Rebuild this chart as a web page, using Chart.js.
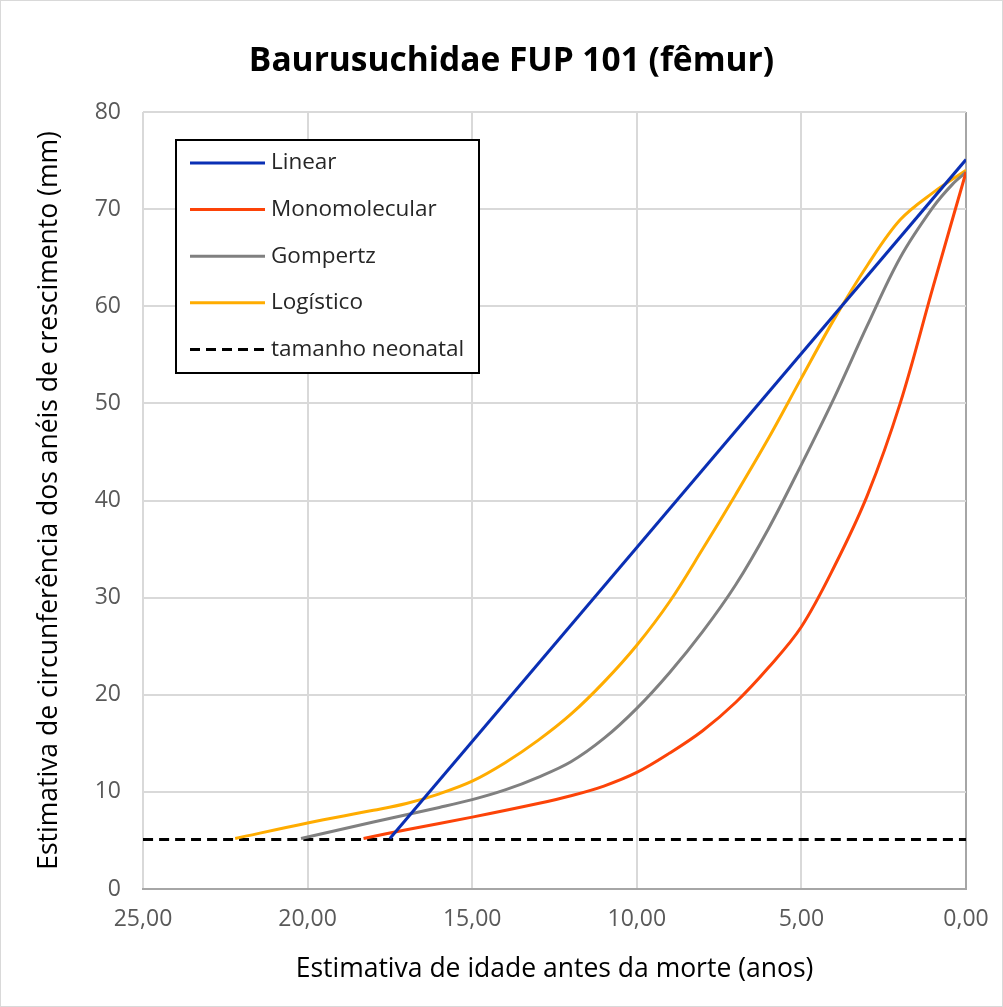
<!DOCTYPE html>
<html lang="pt">
<head>
  <meta charset="UTF-8">
  <title>Baurusuchidae FUP 101 (fêmur)</title>
  <style>
    html, body { margin: 0; padding: 0; background: #fff; }
    #wrap { width: 1003px; height: 1007px; position: relative; }
  </style>
</head>
<body>
  <div id="wrap">
    <canvas id="growthChart" width="1003" height="1007"></canvas>
  </div>

  <script src="https://cdn.jsdelivr.net/npm/chart.js"></script>
  <script>
    // Values (idade antes da morte em anos, circunferência em mm)
    const linearAges = [17.5, 0];
    const linearValues = [5.2, 75.1];

    const monoAges = [18.3, 17, 15, 13, 12, 11, 10, 9, 8, 7, 6, 5, 4, 3, 2, 1, 0];
    const monoValues = [5.2, 6.1, 7.4, 8.8, 9.6, 10.6, 12, 14.0, 16.3, 19.2, 22.8, 27, 33.2, 40.5, 50, 62, 73.8];

    const gompAges = [20.2, 18, 16, 15, 14, 13, 12, 11, 10, 9, 8, 7, 6, 5, 4, 3, 2, 1, 0.4, 0];
    const gompValues = [5.2, 6.9, 8.4, 9.2, 10.2, 11.5, 13.1, 15.5, 18.6, 22.3, 26.5, 31.3, 37.1, 43.7, 50.6, 58, 65, 70.2, 72.6, 73.8];

    const logAges = [22.2, 20, 18, 17, 16, 15, 14, 13, 12, 11, 10, 9, 8, 7, 6, 5, 4, 3, 2, 1, 0];
    const logValues = [5.2, 6.8, 8.1, 8.8, 9.8, 11.1, 13, 15.3, 18, 21.3, 25.1, 29.6, 35, 40.6, 46.4, 52.6, 58.7, 64.2, 68.9, 71.7, 74];

    const neonatalAges = [25, 0];
    const neonatalValues = [5.1, 5.1];

    const xTicks = [25, 20, 15, 10, 5, 0];

    const pairs = (xs, ys) => xs.map((x, i) => ({ x: x, y: ys[i] }));

    const FONT = "'Open Sans', 'Noto Sans', sans-serif";

    // legend drawn inside the plot, like the original
    const insideLegend = {
      id: 'insideLegend',
      afterDraw(chart) {
        const ctx = chart.ctx;
        const area = chart.chartArea;
        const left = area.left + 33;
        const top = area.top + 28;
        const w = 303, h = 233;
        ctx.save();
        ctx.fillStyle = '#fff';
        ctx.fillRect(left, top, w, h);
        ctx.lineWidth = 2;
        ctx.strokeStyle = '#000';
        ctx.strokeRect(left, top, w, h);
        ctx.font = '22.5px ' + FONT;
        ctx.textBaseline = 'middle';
        chart.data.datasets.forEach((ds, i) => {
          const y = top + 23 + i * 46.6;
          ctx.beginPath();
          ctx.lineWidth = 3;
          ctx.strokeStyle = ds.borderColor;
          ctx.setLineDash(ds.borderDash || []);
          ctx.moveTo(left + 14, y);
          ctx.lineTo(left + 89, y);
          ctx.stroke();
          ctx.setLineDash([]);
          ctx.fillStyle = '#262626';
          ctx.fillText(ds.label, left + 95, y);
        });
        ctx.restore();
      }
    };

    const outerBorder = {
      id: 'outerBorder',
      beforeDraw(chart) {
        const ctx = chart.ctx;
        ctx.save();
        ctx.fillStyle = '#fff';
        ctx.fillRect(0, 0, chart.width, chart.height);
        ctx.strokeStyle = '#d9d9d9';
        ctx.lineWidth = 1;
        ctx.strokeRect(0.5, 0.5, chart.width - 1, chart.height - 1);
        ctx.restore();
      }
    };

    const lineStyle = (label, color, data) => ({
      label: label,
      data: data,
      borderColor: color,
      backgroundColor: color,
      borderWidth: 3,
      pointRadius: 0,
      fill: false,
      tension: 0.35
    });

    const gridColor = (c) => (c.tick && c.tick.value === 0 ? '#a6a6a6' : '#d9d9d9');

    const ctx = document.getElementById('growthChart').getContext('2d');
    new Chart(ctx, {
      type: 'line',
      data: {
        datasets: [
          lineStyle('Linear', '#0a2fb4', pairs(linearAges, linearValues)),
          lineStyle('Monomolecular', '#fc4308', pairs(monoAges, monoValues)),
          lineStyle('Gompertz', '#808080', pairs(gompAges, gompValues)),
          lineStyle('Logístico', '#ffac00', pairs(logAges, logValues)),
          Object.assign(lineStyle('tamanho neonatal', '#000000', pairs(neonatalAges, neonatalValues)), {
            borderDash: [10, 6]
          })
        ]
      },
      options: {
        responsive: false,
        animation: false,
        layout: { padding: { left: 20, right: 0, top: 0, bottom: 0 } },
        scales: {
          x: {
            type: 'linear',
            reverse: true,
            min: 0,
            max: 25,
            afterBuildTicks: (scale) => { scale.ticks = xTicks.map(v => ({ value: v })); },
            afterFit: (scale) => {
              scale.height = 118;
              scale.paddingLeft = 0;
              scale.paddingRight = 0;
            },
            ticks: {
              color: '#595959',
              font: { family: FONT, size: 23 },
              padding: 17,
              maxRotation: 0,
              callback: (v) => v.toFixed(2).replace('.', ',')
            },
            grid: { drawTicks: false, lineWidth: 2, color: gridColor },
            border: { display: true, color: '#a6a6a6', width: 2 },
            title: {
              display: true,
              text: 'Estimativa de idade antes da morte (anos)',
              color: '#000',
              font: { family: FONT, size: 26.5 },
              padding: { top: 0, bottom: 22 }
            }
          },
          y: {
            min: 0,
            max: 80,
            afterFit: (scale) => { scale.width = 123; },
            ticks: {
              stepSize: 10,
              color: '#595959',
              font: { family: FONT, size: 23 },
              padding: 22
            },
            grid: { drawTicks: false, lineWidth: 2, color: gridColor },
            border: { display: false },
            title: {
              display: true,
              text: 'Estimativa de circunferência dos anéis de crescimento (mm)',
              color: '#000',
              font: { family: FONT, size: 26.5 },
              padding: { top: 14, bottom: 0 }
            }
          },
          // empty right-hand axis, only reserves the margin right of the plot
          yRight: {
            position: 'right',
            min: 0,
            max: 80,
            afterFit: (scale) => { scale.width = 37; },
            ticks: { display: false },
            grid: { display: false },
            border: { display: false }
          }
        },
        plugins: {
          legend: { display: false },
          tooltip: { enabled: false },
          title: {
            display: true,
            text: 'Baurusuchidae FUP 101 (fêmur)',
            color: '#000',
            font: { family: FONT, size: 33.5, weight: 'bold' },
            padding: { top: 41, bottom: 30.8 }
          }
        }
      },
      plugins: [outerBorder, insideLegend]
    });
  </script>
</body>
</html>
